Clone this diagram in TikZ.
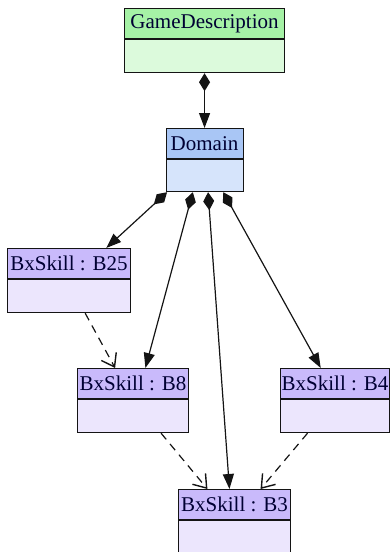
\documentclass[tikz,border=0pt]{standalone}
\usepackage{fontspec}
\setmainfont{Liberation Serif}
\usetikzlibrary{arrows.meta,calc}

\definecolor{gdhead}{HTML}{A6F2A6}
\definecolor{gdbody}{HTML}{DCFADC}
\definecolor{dmhead}{HTML}{A9C6F5}
\definecolor{dmbody}{HTML}{D6E4FB}
\definecolor{skhead}{HTML}{C9BAFB}
\definecolor{skbody}{HTML}{ECE6FD}
\definecolor{edge}{HTML}{141414}

\tikzset{
  hdr/.style={draw=edge, line width=1.1pt, anchor=north west, inner sep=0pt,
    minimum height=30pt, font=\fontsize{21}{24}\selectfont, text=black!80!blue},
  bdy/.style={draw=edge, line width=1.1pt, anchor=north west, inner sep=0pt,
    minimum height=33pt},
  compo/.style={line width=1.2pt, draw=edge,
    {Diamond[length=18pt,width=11pt]}-{Triangle[length=15pt,width=11pt]}},
  dep/.style={line width=1.2pt, draw=edge, dash pattern=on 8pt off 6pt,
    -{Straight Barb[length=12pt,width=17pt,line width=1.4pt]}},
}

\begin{document}
\begin{tikzpicture}[x=1pt,y=-1pt]
\useasboundingbox (0,0) rectangle (390,552);

% class boxes: header with name, empty body below
\node[hdr, fill=gdhead, minimum width=160pt] (gd) at (124,8) {GameDescription};
\node[bdy, fill=gdbody, minimum width=160pt] (gdb) at (gd.south west) {};

\node[hdr, fill=dmhead, minimum width=77pt] (dm) at (165.5,128) {Domain};
\node[bdy, fill=dmbody, minimum width=77pt, minimum height=32pt] (dmb) at (dm.south west) {};

\node[hdr, fill=skhead, minimum width=123pt] (b25) at (7,248) {BxSkill : B25};
\node[bdy, fill=skbody, minimum width=123pt] (b25b) at (b25.south west) {};

\node[hdr, fill=skhead, minimum width=111pt] (b8) at (77,368) {BxSkill : B8};
\node[bdy, fill=skbody, minimum width=111pt] (b8b) at (b8.south west) {};

\node[hdr, fill=skhead, minimum width=109pt] (b4) at (280,368) {BxSkill : B4};
\node[bdy, fill=skbody, minimum width=109pt] (b4b) at (b4.south west) {};

\node[hdr, fill=skhead, minimum width=112pt] (b3) at (178,489) {BxSkill : B3};
\node[bdy, fill=skbody, minimum width=112pt, minimum height=32pt] (b3b) at (b3.south west) {};

% attachment points on the Domain box
\coordinate (d1) at ($(dmb.south west)!0.02!(dmb.south east)$);
\coordinate (d2) at ($(dmb.south west)!0.35!(dmb.south east)$);
\coordinate (d3) at ($(dmb.south west)!0.545!(dmb.south east)$);
\coordinate (d4) at ($(dmb.south west)!0.74!(dmb.south east)$);

% composition links
\draw[compo] (gdb.south) -- (dm.north);
\draw[compo] (d1) -- ($(b25.north west)!0.8!(b25.north east)$);
\draw[compo] (d2) -- ($(b8.north west)!0.61!(b8.north east)$);
\draw[compo] (d3) -- ($(b3.north west)!0.455!(b3.north east)$);
\draw[compo] (d4) -- ($(b4.north west)!0.37!(b4.north east)$);

% dependencies
\draw[dep] ($(b25b.south west)!0.63!(b25b.south east)$) -- ($(b8.north west)!0.34!(b8.north east)$);
\draw[dep] ($(b8b.south west)!0.75!(b8b.south east)$) -- ($(b3.north west)!0.26!(b3.north east)$);
\draw[dep] ($(b4b.south west)!0.25!(b4b.south east)$) -- ($(b3.north west)!0.73!(b3.north east)$);
\end{tikzpicture}
\end{document}
